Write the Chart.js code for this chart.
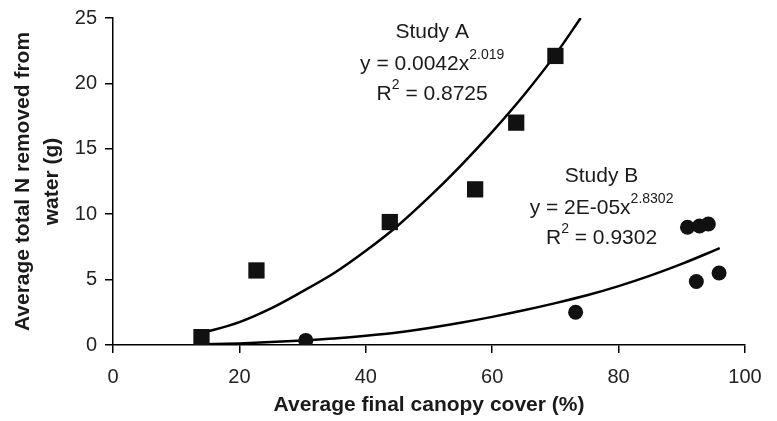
<!DOCTYPE html>
<html>
<head>
<meta charset="utf-8">
<script src="https://cdn.jsdelivr.net/npm/chart.js@4/dist/chart.umd.min.js"></script>
<style>
  body { margin: 0; background: #fff; }
  #wrap { width: 777px; height: 421px; }
</style>
</head>
<body>
<div id="wrap"><canvas id="nChart"></canvas></div>
<script>
// Study A (squares)
const studyAx = [14, 22.7, 43.8, 57.3, 63.8, 70.0];
const studyAy = [0.6, 5.7, 9.4, 11.9, 17.0, 22.1];
// Study B (circles)
const studyBx = [30.5, 73.2, 90.9, 92.8, 94.2, 92.3, 95.9];
const studyBy = [0.35, 2.5, 9.0, 9.1, 9.25, 4.85, 5.5];

// power trend lines
const trendAx = [14, 20, 25, 30, 35, 40, 45, 50, 55, 60, 65, 70, 74];
const trendAy = [0.9, 1.75, 2.8, 4.1, 5.5, 7.2, 9.1, 11.3, 13.7, 16.3, 19.1, 22.2, 25];
const trendBx = [14, 20, 25, 30, 35, 40, 45, 50, 55, 60, 65, 70, 75, 80, 85, 90, 96];
const trendBy = [0.05, 0.12, 0.22, 0.35, 0.5, 0.7, 0.95, 1.3, 1.7, 2.15, 2.65, 3.2, 3.8, 4.5, 5.3, 6.2, 7.4];

const studyNames = ["Study A", "Study B"];
const fitCoef = ["0.0042", "2E-05"];
const fitPower = ["2.019", "2.8302"];
const fitR2 = ["0.8725", "0.9302"];

const xTicks = [0, 20, 40, 60, 80, 100];
const yTicks = [0, 5, 10, 15, 20, 25];

const toPts = (xs, ys) => xs.map((x, i) => ({ x: x, y: ys[i] }));

const FONT = "'Liberation Sans', Arial, sans-serif";

// draws one centred line made of [text, isSuperscript] pieces
const drawPieces = (ctx, pieces, cx, cy) => {
  const big = "21px " + FONT, small = "14px " + FONT;
  let w = 0;
  pieces.forEach((p) => { ctx.font = p[1] ? small : big; w += ctx.measureText(p[0]).width; });
  let x = cx - w / 2;
  pieces.forEach((p) => {
    ctx.font = p[1] ? small : big;
    ctx.fillText(p[0], x, p[1] ? cy - 9 : cy);
    x += ctx.measureText(p[0]).width;
  });
};

const notesPlugin = {
  id: "notes",
  afterDatasetsDraw(chart) {
    const ctx = chart.ctx, xs = chart.scales.x, ys = chart.scales.y;
    const spots = [[50.5, 23.9, 21.5, 19.2], [77.3, 12.9, 10.45, 8.15]];
    ctx.save();
    ctx.fillStyle = "#1a1a1a";
    ctx.textBaseline = "middle";
    ctx.textAlign = "left";
    spots.forEach((s, i) => {
      const cx = xs.getPixelForValue(s[0]);
      drawPieces(ctx, [[studyNames[i], false]], cx, ys.getPixelForValue(s[1]));
      drawPieces(ctx, [["y = " + fitCoef[i] + "x", false], [fitPower[i], true]], cx, ys.getPixelForValue(s[2]));
      drawPieces(ctx, [["R", false], ["2", true], [" = " + fitR2[i], false]], cx, ys.getPixelForValue(s[3]));
    });
    ctx.restore();
  },
};

const renderChart = () => {
  const ctx = document.getElementById("nChart").getContext("2d");
  new Chart(ctx, {
    type: "scatter",
    data: {
      datasets: [
        {
          label: "Study A",
          data: toPts(studyAx, studyAy),
          pointStyle: "rect",
          pointRadius: 11.5,
          pointHoverRadius: 11.5,
          backgroundColor: "#111",
          borderColor: "#111",
          borderWidth: 0,
        },
        {
          label: "Study B",
          data: toPts(studyBx, studyBy),
          pointStyle: "circle",
          pointRadius: 7.5,
          pointHoverRadius: 7.5,
          backgroundColor: "#111",
          borderColor: "#111",
          borderWidth: 0,
        },
        {
          label: "Power (Study A)",
          data: toPts(trendAx, trendAy),
          showLine: true,
          pointRadius: 0,
          borderColor: "#000",
          borderWidth: 2.5,
          cubicInterpolationMode: "monotone",
        },
        {
          label: "Power (Study B)",
          data: toPts(trendBx, trendBy),
          showLine: true,
          pointRadius: 0,
          borderColor: "#000",
          borderWidth: 2.5,
          cubicInterpolationMode: "monotone",
        },
      ],
    },
    options: {
      responsive: true,
      maintainAspectRatio: false,
      animation: false,
      layout: { padding: { top: 5, right: 32, left: 0, bottom: 0 } },
      plugins: { legend: { display: false }, tooltip: { enabled: false } },
      scales: {
        x: {
          type: "linear",
          min: 0,
          max: 100,
          afterBuildTicks: (s) => { s.ticks = xTicks.map((v) => ({ value: v })); },
          afterFit: (s) => { s.height = 76; },
          ticks: { color: "#222", padding: 12, font: { family: FONT, size: 20 } },
          grid: { drawOnChartArea: false, drawTicks: true, tickLength: 8, color: "#000", lineWidth: 1.5 },
          border: { display: true, color: "#000", width: 1.5 },
          title: {
            display: true,
            text: "Average final canopy cover (%)",
            color: "#1a1a1a",
            font: { family: FONT, size: 21, weight: "bold" },
            padding: { top: 0, bottom: 3 },
          },
        },
        y: {
          min: 0,
          max: 25,
          afterBuildTicks: (s) => { s.ticks = yTicks.map((v) => ({ value: v })); },
          afterFit: (s) => { s.width = 113; },
          ticks: { color: "#222", padding: 8, font: { family: FONT, size: 20, lineHeight: 1.0 } },
          grid: { drawOnChartArea: false, drawTicks: true, tickLength: 8, color: "#000", lineWidth: 1.5 },
          border: { display: true, color: "#000", width: 1.5 },
          title: {
            display: true,
            text: ["Average total N removed from", "water (g)"],
            color: "#1a1a1a",
            font: { family: FONT, size: 21, weight: "bold", lineHeight: 1.38 },
            padding: { top: 8.5, bottom: 0 },
          },
        },
      },
    },
    plugins: [notesPlugin],
  });
};

renderChart();
</script>
</body>
</html>
